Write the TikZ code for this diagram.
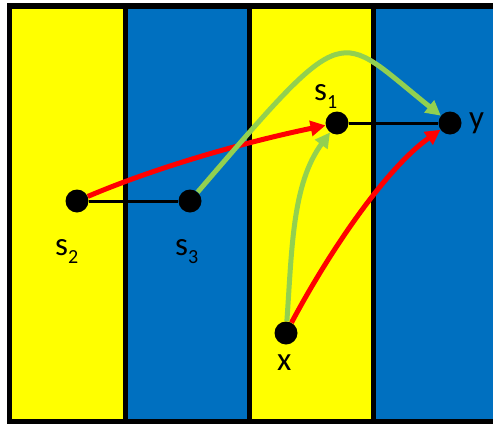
\documentclass[tikz,border=0pt]{standalone}
\usepackage{fontspec}
\setmainfont{Carlito}
\usetikzlibrary{arrows.meta}
\definecolor{stripeyellow}{HTML}{FFFF00}
\definecolor{stripeblue}{HTML}{0070C0}
\definecolor{arrowred}{HTML}{FF0000}
\definecolor{arrowgreen}{HTML}{92D050}
\newcommand{\sublab}[2]{#1\raisebox{-8pt}{\fontsize{20}{20}\selectfont #2}}
\begin{document}
\begin{tikzpicture}[x=1pt,y=-1pt,
  dot/.style={circle,fill=black,minimum size=23pt,inner sep=0pt},
  lab/.style={inner sep=0pt,anchor=base west,font=\fontsize{33}{33}\selectfont},
  link/.style={black,line width=3pt},
  redarrow/.style={arrowred,line width=5pt,-{Triangle[length=15pt,width=15pt]}},
  greenarrow/.style={arrowgreen,line width=5pt,-{Triangle[length=15pt,width=15pt]}},
  border/.style={black,line width=5.5pt},
  sep/.style={black,line width=5pt}]
\useasboundingbox (0,0) rectangle (493,426);
\begin{scope}
\clip (0,0) rectangle (493,426);
\fill[stripeyellow] (9.5,6) rectangle (125.5,421.5);
\fill[stripeblue] (125.5,6) rectangle (249,421.5);
\fill[stripeyellow] (249,6) rectangle (373.5,421.5);
\fill[stripeblue] (373.5,6) rectangle (510,421.5);
\draw[sep] (125.5,6) -- (125.5,421.5);
\draw[sep] (249,6) -- (249,421.5);
\draw[sep] (373.5,6) -- (373.5,421.5);
\draw[border] (510,6) -- (9.5,6) -- (9.5,421.5) -- (510,421.5);
\end{scope}
% dots
\node[dot] (s1) at (337,123) {};
\node[dot] (y) at (450,123) {};
\node[dot] (s2) at (77,201) {};
\node[dot] (s3) at (190,201) {};
\node[dot] (x) at (286,333) {};
% labels
\node[lab] (ls1) at (314,100) {\sublab{s}{1}};
\node[lab] (ly) at (469,128) {y};
\node[lab] (ls2) at (55,255) {\sublab{s}{2}};
\node[lab] (ls3) at (175,255) {\sublab{s}{3}};
\node[lab] (lx) at (277,370) {x};
% links
\draw[link] (s2) -- (s3);
\draw[link] (s1) -- (y);
% arrows
\draw[redarrow] (s2) .. controls (157,167) and (245,142) .. (s1);
\draw[redarrow] (x) .. controls (328,254) and (385,169) .. (y);
\draw[greenarrow] (x) .. controls (292,250) and (292,184) .. (s1);
\draw[greenarrow] (s3) .. controls (350,15) and (335,31) .. (y);
\end{tikzpicture}
\end{document}
